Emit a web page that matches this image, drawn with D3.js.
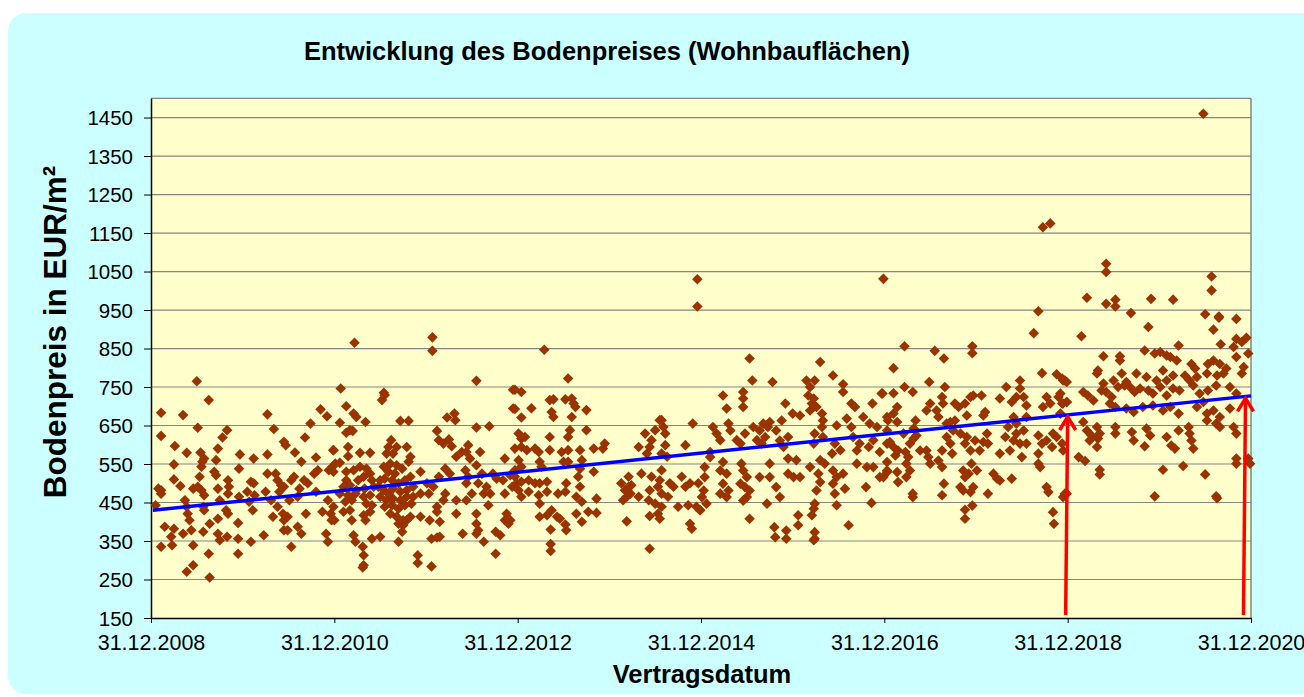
<!DOCTYPE html>
<html>
<head>
<meta charset="utf-8">
<title>Entwicklung des Bodenpreises</title>
<script src="https://d3js.org/d3.v7.min.js"></script>
<style>
  body { margin: 0; background: #fff; }
  svg text { font-family: Arial, "Liberation Sans", sans-serif; }
</style>
</head>
<body>
<div id="chart"></div>
<script>
// Kaufpreise [Jahr (dezimal, 2009.0 = 31.12.2008), EUR/m²]
var sales0910 = [[2009.05,443],[2009.11,683],[2009.11,623],[2009.11,482],[2009.11,473],[2009.08,486],[2009.15,387],[2009.11,335],[2009.22,361],[2009.23,339],[2009.25,382],[2009.25,549],[2009.26,597],[2009.25,510],[2009.32,493],[2009.35,677],[2009.39,579],[2009.37,456],[2009.39,439],[2009.40,421],[2009.42,404],[2009.35,369],[2009.39,270],[2009.46,287],[2009.46,339],[2009.44,378],[2009.46,486],[2009.50,765],[2009.51,644],[2009.54,580],[2009.55,543],[2009.56,556],[2009.58,564],[2009.53,517],[2009.51,491],[2009.55,482],[2009.58,469],[2009.57,439],[2009.58,430],[2009.57,374],[2009.64,395],[2009.63,317],[2009.64,255],[2009.63,716],[2009.73,590],[2009.71,560],[2009.69,530],[2009.71,521],[2009.73,486],[2009.75,456],[2009.73,408],[2009.73,369],[2009.75,352],[2009.78,619],[2009.83,638],[2009.84,508],[2009.85,491],[2009.84,473],[2009.82,430],[2009.84,421],[2009.83,361],[2009.96,538],[2009.97,575],[2009.96,465],[2009.95,397],[2009.95,356],[2009.95,317],
  [2010.05,478],[2010.09,504],[2010.12,500],[2010.07,452],[2010.11,430],[2010.09,348],[2010.12,564],[2010.13,469],[2010.23,365],[2010.27,679],[2010.27,575],[2010.27,525],[2010.25,478],[2010.31,456],[2010.34,641],[2010.33,413],[2010.36,525],[2010.38,508],[2010.42,495],[2010.40,478],[2010.45,491],[2010.38,439],[2010.44,421],[2010.45,404],[2010.49,413],[2010.45,378],[2010.49,378],[2010.47,599],[2010.45,608],[2010.51,456],[2010.53,335],[2010.53,508],[2010.56,517],[2010.57,580],[2010.62,486],[2010.60,465],[2010.60,387],[2010.64,369],[2010.64,556],[2010.68,619],[2010.69,421],[2010.67,508],[2010.71,500],[2010.74,655],[2010.78,525],[2010.82,534],[2010.80,567],[2010.80,478],[2010.85,692],[2010.92,674],[2010.91,369],[2010.93,348],[2010.93,456],[2010.96,421],[2011.00,404],[2010.94,534],[2010.98,543],[2010.99,586],[2010.87,426]];

var sales1112 = [[2011.22,865],[2011.07,746],[2011.13,700],[2011.21,681],[2011.24,672],[2011.06,657],[2011.34,659],[2011.13,631],[2011.17,638],[2011.20,636],[2010.99,586],[2011.15,594],[2011.15,570],[2011.28,579],[2011.39,579],[2011.54,735],[2011.52,716],[2011.55,729],[2011.72,662],[2011.81,662],[2012.07,879],[2012.07,844],[2012.55,766],[2012.95,743],[2012.95,694],[2012.23,671],[2012.31,681],[2012.32,664],[2012.12,636],[2012.55,645],[2012.69,648],[2012.14,612],[2012.19,603],[2012.25,614],[2012.28,596],[2011.62,612],[2011.59,594],[2011.68,594],[2011.79,594],[2011.57,577],[2011.64,577],[2011.83,569],[2011.81,556],[2012.46,599],[2012.39,581],[2012.33,569],[2012.59,581],[2012.48,564],[2012.86,564],
  [2011.01,551],[2011.06,553],[2010.99,530],[2011.13,530],[2011.21,534],[2011.28,543],[2011.35,538],[2011.39,525],[2011.13,508],[2011.26,508],[2011.32,517],[2011.41,508],[2011.10,491],[2011.17,495],[2011.24,482],[2011.33,486],[2011.43,491],[2011.06,473],[2011.15,469],[2011.23,473],[2011.32,465],[2011.39,469],[2011.12,452],[2011.19,456],[2011.35,447],[2011.41,443],[2011.10,426],[2011.17,430],[2011.32,417],[2011.39,426],[2011.19,404],[2011.34,404],[2011.21,365],[2011.23,348],[2011.31,335],[2011.32,313],[2011.32,287],[2011.31,281],[2011.41,356],[2011.50,361],[2010.99,439],[2010.97,404],
  [2011.54,543],[2011.61,551],[2011.68,547],[2011.59,530],[2011.66,525],[2011.74,538],[2011.50,508],[2011.55,512],[2011.63,508],[2011.70,500],[2011.77,508],[2011.83,517],[2011.48,491],[2011.54,482],[2011.59,473],[2011.64,486],[2011.72,478],[2011.79,482],[2011.86,491],[2011.50,465],[2011.57,456],[2011.64,460],[2011.72,456],[2011.79,465],[2011.86,465],[2011.94,473],[2011.55,439],[2011.63,443],[2011.70,434],[2011.77,443],[2011.84,447],[2011.61,421],[2011.68,413],[2011.75,404],[2011.83,413],[2011.94,413],[2011.70,395],[2011.75,391],[2011.79,404],[2011.74,374],[2011.70,348],[2011.91,313],[2011.91,293],[2012.06,284],[2012.06,356],[2012.12,359],[2012.15,361],[2012.04,404],[2012.15,400],[2012.12,439],[2012.12,426],
  [2011.94,530],[2012.01,500],[2012.03,473],[2012.08,491],[2012.14,517],[2012.21,538],[2012.26,525],[2012.21,473],[2012.19,456],[2012.33,456],[2012.33,421],[2012.40,369],[2012.43,534],[2012.44,500],[2012.46,517],[2012.50,473],[2012.44,456],[2012.55,547],[2012.61,525],[2012.57,500],[2012.66,491],[2012.70,473],[2012.63,473],[2012.55,421],[2012.55,395],[2012.57,378],[2012.55,369],[2012.63,348],[2012.68,443],[2012.76,374],[2012.81,365],[2012.76,317],[2012.73,525],[2012.77,512],[2012.84,508],[2012.92,521],[2012.97,534],[2012.86,473],[2012.94,491],[2012.99,500],[2012.88,421],[2012.92,404],[2012.90,395],[2012.86,404],[2012.44,581]];

var sales1314 = [[2013.29,847],[2013.55,772],[2013.04,737],[2012.97,743],[2013.35,716],[2013.39,718],[2013.52,718],[2013.59,720],[2013.63,698],[2013.61,707],[2013.15,695],[2013.04,671],[2013.37,685],[2013.39,672],[2013.59,672],[2013.75,690],[2012.97,693],[2013.01,629],[2013.04,616],[2013.08,620],[2013.35,620],[2013.55,620],[2013.57,638],[2013.75,638],[2013.95,603],[2013.93,590],[2013.83,590],
  [2012.97,590],[2013.04,594],[2013.10,586],[2013.19,590],[2013.23,581],[2013.35,586],[2013.48,581],[2013.55,586],[2013.68,586],[2013.70,560],[2013.01,560],[2013.04,543],[2013.24,556],[2013.26,543],[2013.50,556],[2013.55,556],[2013.68,538],[2013.83,530],[2012.97,517],[2013.04,504],[2013.12,508],[2013.19,500],[2013.24,500],[2013.32,504],[2013.66,517],[2013.68,491],[2013.53,500],[2013.01,482],[2013.12,478],[2013.23,469],[2013.32,478],[2013.44,473],[2013.52,478],[2013.64,465],[2013.70,452],[2013.86,460],[2013.04,465],[2013.24,447],
  [2013.24,413],[2013.32,417],[2013.37,430],[2013.43,413],[2013.46,408],[2013.64,421],[2013.77,426],[2013.86,423],[2013.70,400],[2013.36,380],[2013.52,393],[2013.53,378],[2013.36,342],[2013.36,324],
  [2014.13,500],[2014.17,482],[2014.19,465],[2014.15,456],[2014.21,491],[2014.24,495],[2014.23,473],[2014.19,401],[2014.21,517],[2014.32,594],[2014.39,629],[2014.46,612],[2014.50,638],[2014.55,664],[2014.59,646],[2014.61,629],[2014.41,577],[2014.44,594],[2014.57,577],[2014.61,599],[2014.63,569],[2014.83,599],[2014.35,525],[2014.46,517],[2014.57,534],[2014.55,508],[2014.66,500],[2014.79,517],[2014.88,500],[2014.32,465],[2014.44,482],[2014.53,491],[2014.57,473],[2014.70,491],[2014.83,491],[2014.97,500],[2014.43,456],[2014.50,447],[2014.57,439],[2014.53,421],[2014.64,465],[2014.75,439],[2014.86,443],[2014.95,439],[2014.99,430],[2014.44,415],[2014.55,408],[2014.88,395],[2014.90,382],[2014.44,330],[2014.91,655],[2014.57,664],[2014.96,1030],[2014.96,959]];

var sales1516 = [[2016.99,1031],[2015.53,824],[2016.30,815],[2015.56,767],[2015.78,763],[2016.44,780],[2016.55,757],[2016.55,737],[2016.15,767],[2016.24,767],[2016.19,750],[2016.17,728],[2016.23,720],[2016.21,707],[2016.26,698],[2016.19,689],[2015.46,737],[2015.46,720],[2015.46,698],[2015.24,728],[2015.28,694],[2015.92,707],[2016.00,681],[2016.08,676],[2015.88,663],[2015.95,620],[2016.64,707],[2016.68,698],[2016.87,707],[2016.97,733],
  [2016.32,681],[2016.33,663],[2016.32,646],[2016.24,629],[2016.33,620],[2016.23,603],[2016.48,650],[2016.59,668],[2016.64,646],[2016.77,672],[2016.84,655],[2016.92,646],[2017.03,672],[2015.13,646],[2015.17,629],[2015.21,612],[2015.30,655],[2015.32,637],[2015.39,612],[2015.43,603],[2015.48,629],[2015.57,646],[2015.64,637],[2015.70,620],[2015.61,612],[2015.66,603],[2015.75,659],[2015.82,637],
  [2015.10,581],[2015.04,542],[2015.10,568],[2015.24,555],[2015.21,533],[2015.28,525],[2015.24,499],[2015.30,481],[2015.21,473],[2015.28,464],[2015.04,516],[2015.03,481],[2015.06,447],[2014.99,430],[2015.01,464],[2015.44,551],[2015.46,533],[2015.50,516],[2015.43,499],[2015.48,490],[2015.50,464],[2015.53,481],[2015.46,455],[2015.53,408],[2015.72,447],[2015.64,516],[2015.75,516],[2015.75,551],[2015.82,490],[2015.86,464],[2015.80,386],[2015.81,360],[2015.93,377],[2015.93,356],
  [2015.95,525],[2016.01,516],[2016.08,516],[2016.04,560],[2015.95,564],[2016.06,417],[2016.06,391],[2016.21,417],[2016.23,434],[2016.24,447],[2016.24,373],[2016.24,356],[2016.23,352],[2016.26,481],[2016.30,503],[2016.28,525],[2016.19,542],[2016.30,560],[2016.35,551],[2016.43,577],[2016.52,586],[2016.46,603],[2016.44,533],[2016.48,516],[2016.55,525],[2016.44,499],[2016.46,473],[2016.57,486],[2016.48,443],[2016.61,391],
  [2016.66,620],[2016.70,585],[2016.73,603],[2016.83,594],[2016.88,612],[2016.95,581],[2017.03,603],[2016.70,551],[2016.81,542],[2016.88,542],[2016.95,516],[2017.03,533],[2016.80,490],[2016.86,449],[2015.86,611],[2015.90,594],[2015.68,655],[2015.73,646]];

var sales1718 = [[2018.68,947],[2018.63,890],[2018.73,1165],[2018.81,1175],[2017.22,856],[2017.55,844],[2017.65,824],[2017.96,856],[2017.96,838],[2017.10,799],[2018.72,786],[2018.88,783],[2018.94,772],[2018.97,767],[2016.98,733],[2017.10,734],[2017.22,750],[2017.31,737],[2017.49,763],
  [2017.66,750],[2017.63,724],[2017.64,707],[2017.50,707],[2017.46,689],[2017.57,689],[2017.59,672],[2017.77,707],[2017.81,698],[2017.88,707],[2017.94,724],[2017.97,728],[2018.06,728],[2018.10,685],[2018.08,676],[2017.90,676],[2018.26,720],[2018.33,750],[2018.39,711],[2018.44,724],[2018.48,767],[2018.52,724],[2018.55,702],[2018.48,746],[2018.55,672],[2018.77,724],[2018.81,707],[2018.73,698],[2018.90,724],[2018.94,707],[2018.99,711],[2018.92,681],
  [2017.14,698],[2017.10,681],[2017.04,663],[2017.14,659],[2017.03,637],[2017.34,663],[2017.32,642],[2017.35,624],[2017.21,629],[2017.28,603],[2017.32,616],[2017.10,594],[2017.12,572],[2017.15,585],[2017.06,607],[2017.23,581],[2017.26,568],[2017.24,551],[2017.28,533],[2017.24,516],[2017.03,555],[2017.03,529],[2017.14,529],[2017.15,503],[2016.99,516],[2017.31,473],[2017.31,464],
  [2017.39,585],[2017.46,585],[2017.50,551],[2017.48,568],[2017.59,559],[2017.63,542],[2017.63,585],[2017.65,499],[2017.63,469],[2017.68,655],[2017.72,659],[2017.77,663],[2017.75,637],[2017.68,620],[2017.72,603],[2017.74,577],[2017.83,629],[2017.88,603],[2017.90,620],[2017.94,585],[2017.99,611],[2018.04,585],[2018.08,607],[2018.13,603],[2018.12,629],
  [2017.86,533],[2017.92,525],[2017.88,516],[2017.95,551],[2018.01,533],[2017.97,490],[2017.94,477],[2017.86,481],[2017.83,490],[2017.88,431],[2017.88,408],[2017.96,442],[2018.13,473],[2018.19,525],[2018.23,512],[2018.26,507],[2018.39,512],[2018.26,577],[2018.32,620],[2018.37,585],[2018.41,611],[2018.44,629],[2018.48,603],[2018.55,603],[2018.50,568],[2018.41,672],[2018.44,655],[2018.52,637],[2018.35,646],
  [2018.68,624],[2018.72,603],[2018.77,611],[2018.83,594],[2018.88,620],[2018.94,603],[2018.95,585],[2018.84,629],[2018.68,577],[2018.68,551],[2018.70,542],[2018.77,490],[2018.79,477],[2018.84,425],[2018.85,395],[2018.95,464],[2018.99,473]];

var sales1920 = [[2020.48,1460],[2019.42,1070],[2019.42,1049],[2020.57,1037],[2020.57,1001],[2019.21,982],[2019.42,966],[2019.52,977],[2019.52,959],[2019.91,979],[2020.15,977],[2019.69,942],[2019.88,906],[2019.15,882],[2020.50,939],[2020.65,933],[2020.65,930],[2020.84,927],[2020.59,899],[2020.67,861],[2020.84,875],[2020.90,867],[2020.95,878],[2020.97,837],
  [2019.39,830],[2019.57,830],[2019.57,819],[2019.84,845],[2019.95,837],[2020.01,841],[2020.08,832],[2020.21,858],[2020.12,828],[2020.19,819],[2020.35,810],[2020.39,798],[2020.53,810],[2020.59,819],[2020.66,810],[2020.73,798],[2020.81,854],[2020.92,802],[2020.90,785],[2020.84,828],
  [2019.32,785],[2019.33,793],[2019.39,759],[2019.50,767],[2019.59,785],[2019.64,763],[2019.75,785],[2019.86,776],[2019.97,767],[2020.04,793],[2020.08,767],[2020.15,780],[2020.28,780],[2020.33,767],[2020.41,776],[2020.52,785],[2020.63,780],[2020.70,785],
  [2019.17,737],[2019.22,728],[2019.28,715],[2019.37,741],[2019.42,737],[2019.48,724],[2019.55,750],[2019.62,754],[2019.68,750],[2019.73,737],[2019.79,746],[2019.88,741],[2019.93,733],[2020.01,750],[2020.08,728],[2020.15,746],[2020.22,741],[2020.37,754],[2020.44,733],[2020.53,741],[2020.62,754],[2020.77,750],[2020.84,733],
  [2018.95,767],[2018.99,763],[2018.92,733],[2018.95,707],[2018.99,711],[2019.46,707],[2019.52,698],[2019.64,694],[2019.72,685],[2019.82,698],[2019.93,702],[2020.04,689],[2020.12,698],[2020.21,681],[2020.41,698],[2020.48,711],[2020.52,681],[2020.59,689],[2020.66,672],[2020.77,694],
  [2019.17,659],[2019.21,637],[2019.26,624],[2019.32,646],[2019.24,611],[2019.33,616],[2019.32,594],[2019.35,629],[2019.52,646],[2019.52,629],[2019.70,633],[2019.72,611],[2019.86,642],[2019.90,624],[2019.84,596],[2020.08,620],[2020.13,598],[2020.17,590],[2020.21,637],[2020.32,646],[2020.33,629],[2020.35,611],[2020.37,590],[2020.52,663],[2020.62,655],[2020.66,646],[2020.81,646],[2020.84,629],
  [2019.12,568],[2019.19,558],[2019.35,535],[2019.35,523],[2020.04,535],[2020.26,545],[2020.50,523],[2020.84,564],[2020.84,551],[2020.97,564],[2020.99,551],[2019.95,466],[2020.62,466],[2018.97,473],[2020.63,461]];

// Trendlinie und Pfeile
var trendYears  = [2009.02, 2021.0];
var trendPrices = [430, 727];
var arrowYears  = [2019.0, 2020.94];
var arrowBase   = 158;

// Achsen
var yTicks      = [150, 250, 350, 450, 550, 650, 750, 850, 950, 1050, 1150, 1250, 1350, 1450];
var xTickYears  = [2009, 2011, 2013, 2015, 2017, 2019, 2021];
var xTickLabels = ["31.12.2008", "31.12.2010", "31.12.2012", "31.12.2014", "31.12.2016", "31.12.2018", "31.12.2020"];

var allSales = [].concat(sales0910, sales1112, sales1314, sales1516, sales1718, sales1920);

var W = 1304, H = 697;
var plotLeft = 151, plotRight = 1251, plotTop = 98.3, plotBottom = 618;

var svg = d3.select("#chart").append("svg")
    .attr("width", W)
    .attr("height", H);

// Hintergrund
svg.append("rect")
    .attr("x", 8).attr("y", 13)
    .attr("width", W + 20).attr("height", 681)
    .attr("rx", 18).attr("ry", 18)
    .attr("fill", "#CCFFFF");

var x = d3.scaleLinear().domain([2009, 2021]).range([plotLeft, plotRight]);
var y = d3.scaleLinear().domain([150, 1500]).range([plotBottom, plotTop]);

svg.append("rect")
    .attr("x", plotLeft).attr("y", plotTop)
    .attr("width", plotRight - plotLeft).attr("height", plotBottom - plotTop)
    .attr("fill", "#FFFFCC");

// Gitterlinien
svg.append("g").selectAll("line")
    .data(yTicks.slice(1).concat([1500]))
    .enter().append("line")
    .attr("x1", plotLeft).attr("x2", plotRight)
    .attr("y1", d => y(d)).attr("y2", d => y(d))
    .attr("stroke", "#858585")
    .attr("stroke-width", 1.2);

svg.append("line")
    .attr("x1", plotRight).attr("x2", plotRight)
    .attr("y1", plotTop).attr("y2", plotBottom)
    .attr("stroke", "#858585")
    .attr("stroke-width", 1.5);

// Achsen
var yAxis = svg.append("g")
    .attr("transform", "translate(" + plotLeft + ",0)")
    .call(d3.axisLeft(y).tickValues(yTicks).tickSize(7).tickSizeOuter(0).tickPadding(11)
      .tickFormat(d3.format("d")));
yAxis.selectAll("text").attr("font-size", "20.5px").attr("fill", "#000").attr("dy", "0.36em");

var xAxis = svg.append("g")
    .attr("transform", "translate(0," + plotBottom + ")")
    .call(d3.axisBottom(x).tickValues(xTickYears).tickSize(5).tickSizeOuter(0).tickPadding(12)
      .tickFormat((d, i) => xTickLabels[i]));
xAxis.selectAll("text").attr("font-size", "21.5px").attr("fill", "#000");

svg.selectAll(".domain").attr("stroke", "#000").attr("stroke-width", 1.5);
svg.selectAll(".tick line").attr("stroke", "#000");

// Punkte
var diamond = d3.symbol().type(d3.symbolSquare).size(56);
svg.append("g").selectAll("path")
    .data(allSales)
    .enter().append("path")
    .attr("d", diamond)
    .attr("transform", d => "translate(" + x(d[0]) + "," + y(d[1]) + ") rotate(45)")
    .attr("fill", "#993300");

// Trendlinie
var trendAt = d3.scaleLinear().domain(trendYears).range(trendPrices);
svg.append("line")
    .attr("x1", x(trendYears[0])).attr("y1", y(trendPrices[0]))
    .attr("x2", x(trendYears[1])).attr("y2", y(trendPrices[1]))
    .attr("stroke", "#0000FF")
    .attr("stroke-width", 3.5);

// Pfeile
var arrows = svg.append("g").selectAll("g")
    .data(arrowYears)
    .enter().append("g")
    .attr("stroke", "#FF0000")
    .attr("stroke-width", 3.5)
    .attr("fill", "none");
arrows.append("line")
    .attr("x1", d => x(d) - 2).attr("x2", d => x(d))
    .attr("y1", y(arrowBase)).attr("y2", d => y(trendAt(d)) + 2);
arrows.append("polyline")
    .attr("points", d => {
      var px = x(d), py = y(trendAt(d)) + 2;
      return [[px - 8, py + 13], [px, py], [px + 8, py + 13]].join(" ");
    });

// Titel
svg.append("text")
    .attr("x", 607).attr("y", 60)
    .attr("text-anchor", "middle")
    .attr("font-size", "25.5px").attr("font-weight", "bold")
    .text("Entwicklung des Bodenpreises (Wohnbauflächen)");

svg.append("text")
    .attr("x", 702).attr("y", 683)
    .attr("text-anchor", "middle")
    .attr("font-size", "25.5px").attr("font-weight", "bold")
    .text("Vertragsdatum");

svg.append("text")
    .attr("transform", "translate(66,332) rotate(-90)")
    .attr("text-anchor", "middle")
    .attr("font-size", "31.5px").attr("font-weight", "bold")
    .text("Bodenpreis in EUR/m²");
</script>
</body>
</html>
